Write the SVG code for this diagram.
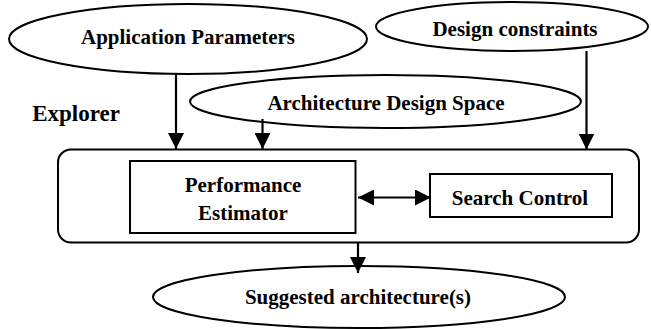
<svg xmlns="http://www.w3.org/2000/svg" width="651" height="329" viewBox="0 0 651 329">
  <defs>
    <style>
      .shape { fill: #fff; stroke: #000; stroke-width: 2; }
      .box { fill: none; stroke: #000; stroke-width: 2; }
      .edge { fill: none; stroke: #000; stroke-width: 2.2; }
      .lbl { font-family: 'Liberation Serif', serif; font-weight: bold; font-size: 21px; fill: #000; text-anchor: middle; }
    </style>
    <marker id="head" viewBox="0 0 16 16" refX="16" refY="8" markerWidth="16" markerHeight="16" markerUnits="userSpaceOnUse" orient="auto-start-reverse">
      <path d="M0,0 L16,8 L0,16 Z" fill="#000"/>
    </marker>
  </defs>

  <rect width="651" height="329" fill="#fff"/>

  <g id="explorer">
    <rect class="box" x="58" y="149.5" width="581" height="93" rx="13" ry="13"/>
    <text class="lbl" x="76" y="121" style="font-size:23px">Explorer</text>
  </g>

  <g id="app-params">
    <ellipse class="shape" cx="188" cy="39" rx="179" ry="35"/>
    <text class="lbl" x="188" y="44">Application Parameters</text>
  </g>

  <g id="design-constraints">
    <ellipse class="shape" cx="512" cy="26.5" rx="136" ry="24.5"/>
    <text class="lbl" x="515" y="36">Design constraints</text>
  </g>

  <g id="arch-space">
    <ellipse class="shape" cx="385.5" cy="101.5" rx="195.5" ry="26.5"/>
    <text class="lbl" x="386" y="110">Architecture Design Space</text>
  </g>

  <g id="perf-estimator">
    <rect class="box" x="130" y="161" width="225.5" height="72"/>
    <text class="lbl" x="243" y="192">Performance</text>
    <text class="lbl" x="243" y="220">Estimator</text>
  </g>

  <g id="search-control">
    <rect class="box" x="430" y="174" width="182" height="43"/>
    <text class="lbl" x="520" y="205">Search Control</text>
  </g>

  <g id="suggested">
    <ellipse class="shape" cx="359" cy="297" rx="206" ry="31"/>
    <text class="lbl" x="358" y="304">Suggested architecture(s)</text>
  </g>

  <g id="connectors">
    <line class="edge" x1="176" y1="74" x2="176" y2="149" marker-end="url(#head)"/>
    <line class="edge" x1="262.5" y1="119" x2="262.5" y2="149" marker-end="url(#head)"/>
    <line class="edge" x1="586.5" y1="51" x2="586.5" y2="149.5" marker-end="url(#head)"/>
    <line class="edge" x1="358" y1="197.5" x2="431" y2="197.5" marker-start="url(#head)" marker-end="url(#head)"/>
    <line class="edge" x1="358" y1="243" x2="358" y2="273" marker-end="url(#head)"/>
  </g>
</svg>
